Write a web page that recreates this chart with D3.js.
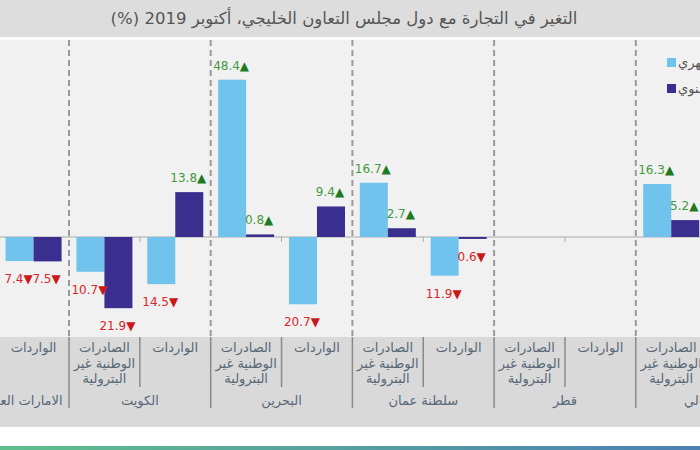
<!DOCTYPE html>
<html><head><meta charset="utf-8">
<script src="https://cdn.jsdelivr.net/npm/d3@7"></script>
<style>
html,body{margin:0;padding:0;background:#fff;overflow:hidden;}
svg{display:block;font-family:"DejaVu Sans",sans-serif;}
</style></head>
<body>
<svg id="c" width="700" height="450"></svg>
<script>
// ---- data ----
const title = "التغير في التجارة مع دول مجلس التعاون الخليجي، أكتوبر 2019 (%)";
const countries = ["الامارات العربية المتحدة", "الكويت", "البحرين", "سلطنة عمان", "قطر", "الإجمالي"];
const flows = ["الصادرات الوطنية غير البترولية", "الواردات"];
const flowLines = [["الصادرات", "الوطنية غير", "البترولية"], ["الواردات"]];
const series = ["نمو شهري", "نمو سنوي"];
// values per country: [exports, imports]; null = not shown
const monthly = [[null, -7.4], [-10.7, -14.5], [48.4, -20.7], [16.7, -11.9], [null, null], [16.3, null]];
const annual  = [[null, -7.5], [-21.9, 13.8], [0.8, 9.4], [2.7, -0.6], [null, null], [5.2, null]];
const seriesValues = [monthly, annual];
const colors = ["#6fc3ed", "#3a2e8e"];

// ---- layout ----
const svg = d3.select("#c");
const W = 700, H = 450;
const plotTop = 40, plotBottom = 337, catBottom = 427;
const groupW = 141.7, x0 = -72.7;

const xC = d3.scaleBand().domain(countries).range([x0, x0 + groupW * countries.length]).padding(0);
const xF = d3.scaleBand().domain(flows).range([0, xC.bandwidth()]).padding(0);
const xS = d3.scaleBand().domain(series).range([0, xF.bandwidth()]).paddingInner(0).paddingOuter(0.265);
const y = d3.scaleLinear().domain([-30, 60]).range([334.5, 42]);

// gradient for bottom line
const defs = svg.append("defs");
const lg = defs.append("linearGradient").attr("id", "bl").attr("x1", "0").attr("x2", "1");
lg.append("stop").attr("offset", "0").attr("stop-color", "#5fbf8c");
lg.append("stop").attr("offset", "1").attr("stop-color", "#4c7fb3");

// backgrounds
svg.append("rect").attr("x", 0).attr("y", 0).attr("width", W).attr("height", 37).attr("fill", "#dddddd");
svg.append("rect").attr("x", 0).attr("y", plotTop).attr("width", W).attr("height", plotBottom - plotTop).attr("fill", "#f1f1f1");
svg.append("rect").attr("x", 0).attr("y", plotBottom).attr("width", W).attr("height", catBottom - plotBottom).attr("fill", "#d9d9d9");
svg.append("rect").attr("x", 0).attr("y", 446).attr("width", W).attr("height", 4).attr("fill", "url(#bl)");

// title
svg.append("text").attr("x", 344).attr("y", 24).attr("text-anchor", "middle")
  .attr("direction", "rtl").style("unicode-bidi", "embed")
  .attr("font-size", 16.5).attr("fill", "#555").text(title);

// dashed group separators in plot, solid in category area
const bounds = countries.slice(1).map(c => xC(c));
svg.selectAll(".dash").data(bounds).join("line")
  .attr("x1", d => d).attr("x2", d => d).attr("y1", plotTop).attr("y2", plotBottom)
  .attr("stroke", "#9a9a9a").attr("stroke-width", 2).attr("stroke-dasharray", "6,4");
svg.selectAll(".gsep").data(bounds).join("line")
  .attr("x1", d => d).attr("x2", d => d).attr("y1", plotBottom).attr("y2", 408)
  .attr("stroke", "#8a8a8a").attr("stroke-width", 1.5);
const mids = countries.map(c => xC(c) + xF.bandwidth());
svg.selectAll(".ssep").data(mids).join("line")
  .attr("x1", d => d).attr("x2", d => d).attr("y1", plotBottom).attr("y2", 387)
  .attr("stroke", "#8a8a8a").attr("stroke-width", 1.5);

// zero line + small ticks
svg.append("line").attr("x1", 0).attr("x2", W).attr("y1", y(0)).attr("y2", y(0))
  .attr("stroke", "#aaa").attr("stroke-width", 1);
svg.selectAll(".tk").data(mids).join("line")
  .attr("x1", d => d).attr("x2", d => d).attr("y1", y(0)).attr("y2", y(0) + 5)
  .attr("stroke", "#aaa").attr("stroke-width", 1);

// bars + labels
const recs = [];
countries.forEach((c, ci) => flows.forEach((f, fi) => series.forEach((s, si) => {
  const v = seriesValues[si][ci][fi];
  if (v !== null) recs.push({c, f, s, si, v});
})));
const bx = d => xC(d.c) + xF(d.f) + xS(d.s);
svg.selectAll(".bar").data(recs).join("rect")
  .attr("x", bx).attr("width", xS.bandwidth())
  .attr("y", d => y(Math.max(0, d.v)))
  .attr("height", d => Math.abs(y(d.v) - y(0)))
  .attr("fill", d => colors[d.si]);

const lab = svg.selectAll(".lab").data(recs).join("text")
  .attr("x", d => bx(d) + xS.bandwidth() / 2 - 1)
  .attr("y", d => d.v >= 0 ? y(d.v) - 10 : y(d.v) + 22)
  .attr("text-anchor", "middle").attr("font-size", 12);
lab.append("tspan").attr("fill", d => d.v >= 0 ? "#3f9a3f" : "#d8262b").text(d => Math.abs(d.v).toFixed(1));
lab.append("tspan").attr("fill", d => d.v >= 0 ? "#1f7a1f" : "#c81818").text(d => d.v >= 0 ? "▲" : "▼");

// category labels (only those inside the visible window)
const catColor = "#586878";
countries.forEach(c => flows.forEach((f, fi) => {
  const cx = xC(c) + xF(f) + xF.bandwidth() / 2;
  if (cx < 0 || cx > W) return;
  const t = svg.append("text").attr("text-anchor", "middle").attr("font-size", 13).attr("fill", catColor);
  flowLines[fi].forEach((ln, li) => t.append("tspan").attr("x", cx).attr("y", 352 + li * 15.5).text(ln));
}));
svg.selectAll(".cl").data(countries).join("text")
  .attr("x", d => xC(d) + xC.bandwidth() / 2).attr("y", 405)
  .attr("text-anchor", "middle").attr("font-size", 13).attr("fill", catColor).text(d => d);

// legend
const leg = svg.selectAll(".lg").data(series).join("g")
  .attr("transform", (d, i) => `translate(667,${58 + i * 26})`);
leg.append("rect").attr("width", 9).attr("height", 9).attr("fill", (d, i) => colors[i]);
leg.append("text").attr("x", 11).attr("y", 9).attr("font-size", 13).attr("fill", "#555").text(d => d);
</script>
</body></html>
